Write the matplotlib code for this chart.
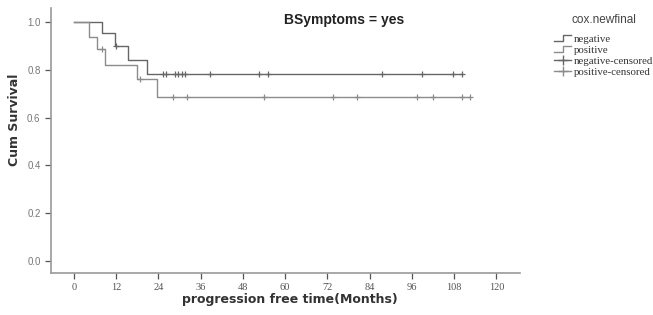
import numpy as np
import matplotlib
matplotlib.use("Agg")
import matplotlib.pyplot as plt
from matplotlib.lines import Line2D
from matplotlib.legend_handler import HandlerBase

# Kaplan-Meier curves (months, cumulative survival)
neg_event_times = [7.9, 11.7, 15.4, 20.8]
neg_surv = [0.955, 0.90, 0.843, 0.785]
neg_censor_times = [12.1, 25.4, 26.3, 28.7, 29.6, 30.6, 31.5, 38.6, 52.7, 55.2,
                    87.4, 98.8, 107.6, 110.1]

pos_event_times = [4.4, 6.6, 8.8, 17.8, 23.7]
pos_surv = [0.939, 0.886, 0.82, 0.76, 0.688]
pos_censor_times = [7.9, 18.8, 28.2, 32.0, 54.0, 73.7, 80.5, 97.5, 102.1,
                    110.1, 112.5]

x_ticks = [0, 12, 24, 36, 48, 60, 72, 84, 96, 108, 120]
y_ticks = [0.0, 0.2, 0.4, 0.6, 0.8, 1.0]

neg_color = '#666666'
pos_color = '#8c8c8c'


def step_curve(times, surv, censors):
    end = max(censors[-1], times[-1])
    xs = [0] + list(times) + [end]
    ys = [1.0] + list(surv) + [surv[-1]]
    return xs, ys


def surv_at(times, surv, t):
    idx = np.searchsorted(times, t, side='right')
    vals = [1.0] + list(surv)
    return [vals[i] for i in idx]


class StepHandler(HandlerBase):
    def create_artists(self, legend, orig_handle, xdescent, ydescent,
                       width, height, fontsize, trans):
        x0 = -xdescent
        xs = [x0, x0 + 0.5 * width, x0 + 0.5 * width, x0 + width]
        ys = [-ydescent + 0.15 * height, -ydescent + 0.15 * height,
              -ydescent + 0.85 * height, -ydescent + 0.85 * height]
        line = Line2D(xs, ys, color=orig_handle.get_color(), lw=1.0)
        line.set_transform(trans)
        return [line]


fig = plt.figure(figsize=(6.53, 3.15), dpi=100)
ax = fig.add_axes([51 / 653, 1 - 273 / 315, (520 - 51) / 653, (273 - 8) / 315])

for times, surv, cens, col in [(neg_event_times, neg_surv, neg_censor_times, neg_color),
                               (pos_event_times, pos_surv, pos_censor_times, pos_color)]:
    xs, ys = step_curve(times, surv, cens)
    ax.plot(xs, ys, drawstyle='steps-post', color=col, lw=1.0)
    ax.plot(cens, surv_at(times, surv, cens), linestyle='none', marker='+',
            markersize=5, mew=0.9, color=col)

ax.set_xlim(-6.5, 126.7)
ax.set_ylim(-0.052, 1.06)
ax.set_xticks(x_ticks)
ax.set_yticks(y_ticks)
ax.set_yticklabels(['%.1f' % v for v in y_ticks])
for s in ['top', 'right']:
    ax.spines[s].set_visible(False)
for s in ['left', 'bottom']:
    ax.spines[s].set_color('#9a9a9a')
    ax.spines[s].set_linewidth(1.2)
ax.tick_params(axis='both', colors='#555555', length=4, width=0.9, labelsize=7)
for lab in ax.get_xticklabels():
    lab.set_family('Liberation Serif')
    lab.set_fontsize(7.5)
for lab in ax.get_yticklabels():
    lab.set_family('Liberation Sans')
    lab.set_color('#777777')

fig.text(344 / 653, 1 - 20 / 315, 'BSymptoms = yes', ha='center', va='center',
         fontsize=10, fontweight='bold', family='Liberation Sans', color='#222222')
fig.text(290 / 653, 1 - 299 / 315, 'progression free time(Months)', ha='center',
         va='center', fontsize=9, fontweight='bold', family='DejaVu Sans', color='#333333')
fig.text(15 / 653, 1 - 120 / 315, 'Cum Survival', ha='center', va='center',
         rotation=90, fontsize=9, fontweight='bold', family='DejaVu Sans', color='#333333')

handles = [Line2D([], [], color=neg_color), Line2D([], [], color=pos_color),
           Line2D([], [], color=neg_color, marker='+', markersize=7, lw=1.0),
           Line2D([], [], color=pos_color, marker='+', markersize=7, lw=1.0)]
labels = ['negative', 'positive', 'negative-censored', 'positive-censored']
leg = fig.legend(handles, labels, loc='upper left', bbox_to_anchor=(554 / 653, 1 - 14 / 315),
                 frameon=False, title='cox.newfinal', handlelength=1.6, handletextpad=0.2,
                 labelspacing=0.12, borderaxespad=0, borderpad=0,
                 prop={'family': 'Liberation Serif', 'size': 7.8},
                 handler_map={handles[0]: StepHandler(), handles[1]: StepHandler()})
leg.get_title().set_fontsize(8.5)
leg.get_title().set_family('Liberation Sans')
leg.get_title().set_color('#444444')
leg._legend_box.sep = 6
for t in leg.get_texts():
    t.set_color('#333333')

fig.savefig('out.png', dpi=100)
